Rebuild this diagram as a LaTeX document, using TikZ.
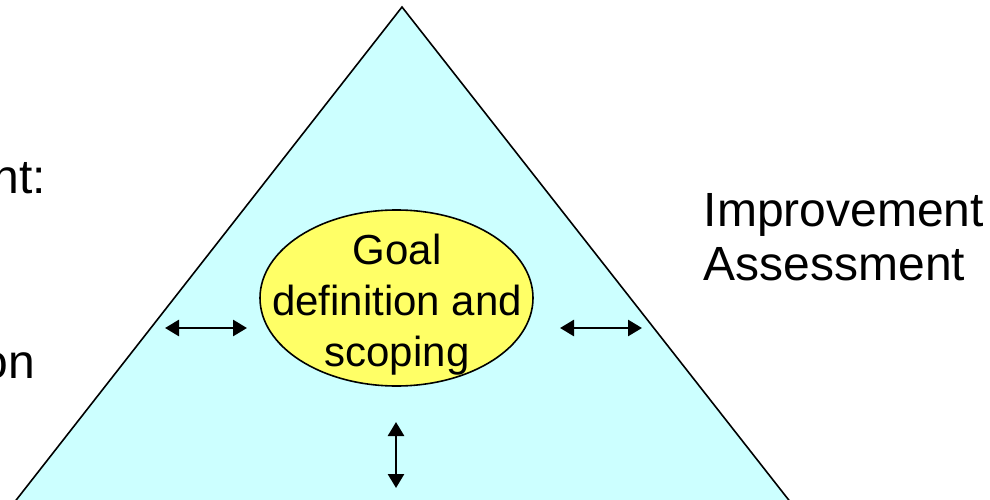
\documentclass[tikz,border=0pt]{standalone}
\usepackage{fontspec}
\setmainfont{Liberation Sans}
\usetikzlibrary{arrows.meta,shapes.geometric}
\definecolor{pyramidfill}{HTML}{CCFFFF}
\definecolor{goalfill}{HTML}{FFFF66}
\begin{document}
\begin{tikzpicture}[x=1pt,y=-1pt,
  edge/.style={line width=1.6pt,line join=miter},
  link/.style={line width=2.6pt,{Triangle[length=14pt,width=16pt]}-{Triangle[length=14pt,width=16pt]}},
  sidetext/.style={inner sep=0pt,font=\fontsize{48}{54}\selectfont},
  goaltext/.style={inner sep=0pt,align=center,font=\fontsize{42}{51}\selectfont}]
\useasboundingbox (0,0) rectangle (990,500);
\clip (0,0) rectangle (990,500);
% pyramid
\coordinate (apex) at (402,7);
\coordinate (bl) at (-1,522);
\coordinate (br) at (806,522);
\fill[pyramidfill] (apex) -- (bl) -- (br) -- cycle;
\draw[edge] (bl) -- (apex) -- (br);
% central ellipse
\node[draw,line width=1.6pt,fill=goalfill,ellipse,minimum width=273pt,minimum height=176pt,inner sep=0pt] (goal) at (396.5,298) {};
\node[goaltext,anchor=north] (goallabel) at (397,234) {Goal\\definition and\\scoping};
% side labels
\node[sidetext,align=left,anchor=north west] (improve) at (703.5,193) {Improvement\\Assessment};
\node[sidetext,anchor=base east] (leftupper) at (46,193) {nt:};
\node[sidetext,anchor=base east] (leftlower) at (35,378) {on};
% double-headed arrows around the goal
\coordinate (la) at (165,328);
\coordinate (lb) at (247,328);
\coordinate (ra) at (560,328);
\coordinate (rb) at (642,328);
\coordinate (da) at (396,422);
\coordinate (db) at (396,488);
\draw[link] (la) -- (lb);
\draw[link] (ra) -- (rb);
\draw[link] (da) -- (db);
\end{tikzpicture}
\end{document}
